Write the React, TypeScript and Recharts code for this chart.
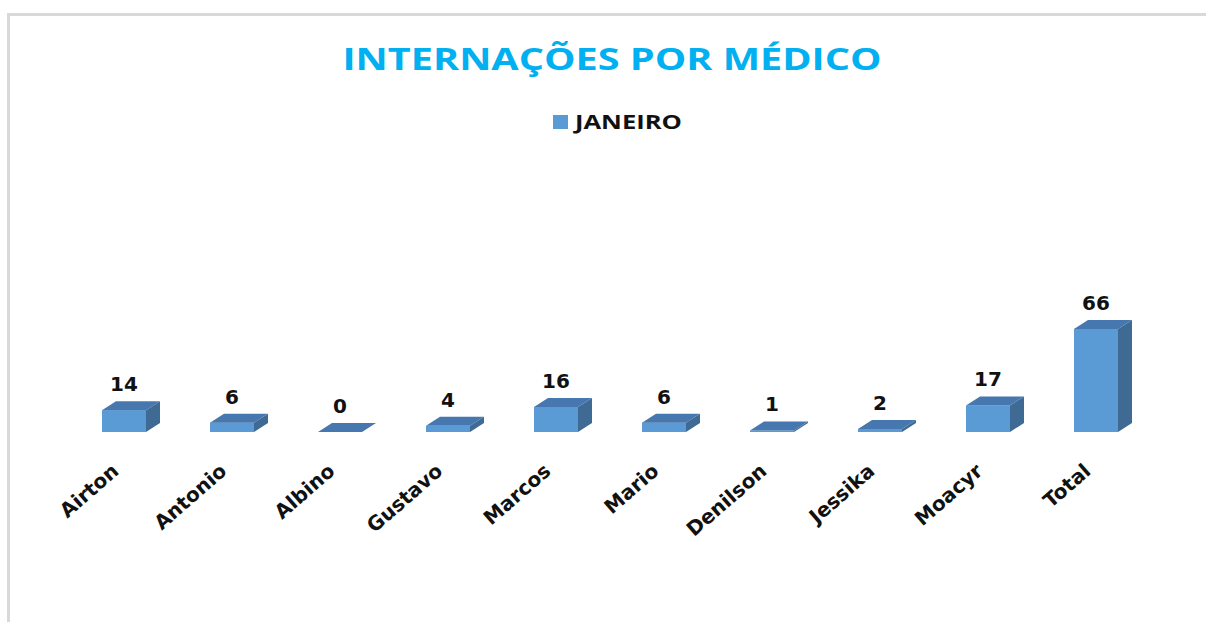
import { Bar, BarChart, LabelList, XAxis, YAxis } from "recharts";

const doctors = ["Airton", "Antonio", "Albino", "Gustavo", "Marcos", "Mario", "Denilson", "Jessika", "Moacyr", "Total"];
const january = [14, 6, 0, 4, 16, 6, 1, 2, 17, 66];

const chartTitle = "INTERNAÇÕES POR MÉDICO";
const seriesName = "JANEIRO";

const data = doctors.map((name, i) => ({ name, janeiro: january[i] }));

const FRONT = "#5b9bd5";
const TOP = "#4677ae";
const SIDE = "#3e6a94";
const DX = 14;
const DY = 9;

function Bar3D(props: any) {
  const { x, y, width, height } = props;
  const h = Math.max(height || 0, 0);
  const w = width;
  return (
    <g>
      {h > 0 && <rect x={x} y={y} width={w} height={h} fill={FRONT} />}
      {h > 0 && (
        <polygon
          points={`${x + w},${y} ${x + w + DX},${y - DY} ${x + w + DX},${y + h - DY} ${x + w},${y + h}`}
          fill={SIDE}
        />
      )}
      <polygon points={`${x},${y} ${x + DX},${y - DY} ${x + w + DX},${y - DY} ${x + w},${y}`} fill={TOP} />
    </g>
  );
}

function ValueLabel(props: any) {
  const { x, y, width, value } = props;
  return (
    <text
      x={x + width / 2}
      y={y - 19}
      textAnchor="middle"
      fontFamily="DejaVu Sans"
      fontWeight="bold"
      fontSize={20}
      fill="#111"
    >
      {value}
    </text>
  );
}

function DoctorTick(props: any) {
  const { x, y, payload } = props;
  const tx = x - 4;
  const ty = y + 33;
  return (
    <text
      x={tx}
      y={ty}
      textAnchor="end"
      transform={`rotate(-41, ${tx}, ${ty})`}
      fontFamily="DejaVu Sans"
      fontWeight="bold"
      fontSize={20}
      fill="#111"
    >
      {payload.value}
    </text>
  );
}

export default function App() {
  return (
    <div style={{ position: "absolute", left: 0, top: 0, width: 1206, height: 622, background: "#fff" }}>
      <div
        style={{
          position: "absolute",
          left: 7,
          top: 13,
          width: 1199,
          height: 609,
          borderTop: "3px solid #d9d9d9",
          borderLeft: "3px solid #d9d9d9",
          boxSizing: "border-box",
        }}
      />
      <div style={{ position: "absolute", left: 0, top: 0 }}>
        <BarChart width={1206} height={622} data={data} margin={{ top: 307, right: 56, left: 70, bottom: 0 }}>
          <text
            x={612}
            y={70}
            textAnchor="middle"
            textLength={539}
            lengthAdjust="spacingAndGlyphs"
            fontFamily="Open Sans"
            fontWeight="bold"
            fontSize={31}
            fill="#00b0f0"
          >
            {chartTitle}
          </text>
          <rect x={553} y={115} width={15} height={14} fill={FRONT} />
          <text
            x={575}
            y={129}
            textLength={107}
            lengthAdjust="spacingAndGlyphs"
            fontFamily="Open Sans"
            fontWeight="bold"
            fontSize={19}
            fill="#111"
          >
            {seriesName}
          </text>
          <XAxis dataKey="name" axisLine={false} tickLine={false} tick={<DoctorTick />} height={190} interval={0} />
          <YAxis hide domain={[0, 80]} />
          <Bar dataKey="janeiro" barSize={44} shape={<Bar3D />} isAnimationActive={false}>
            <LabelList dataKey="janeiro" content={<ValueLabel />} />
          </Bar>
        </BarChart>
      </div>
    </div>
  );
}
